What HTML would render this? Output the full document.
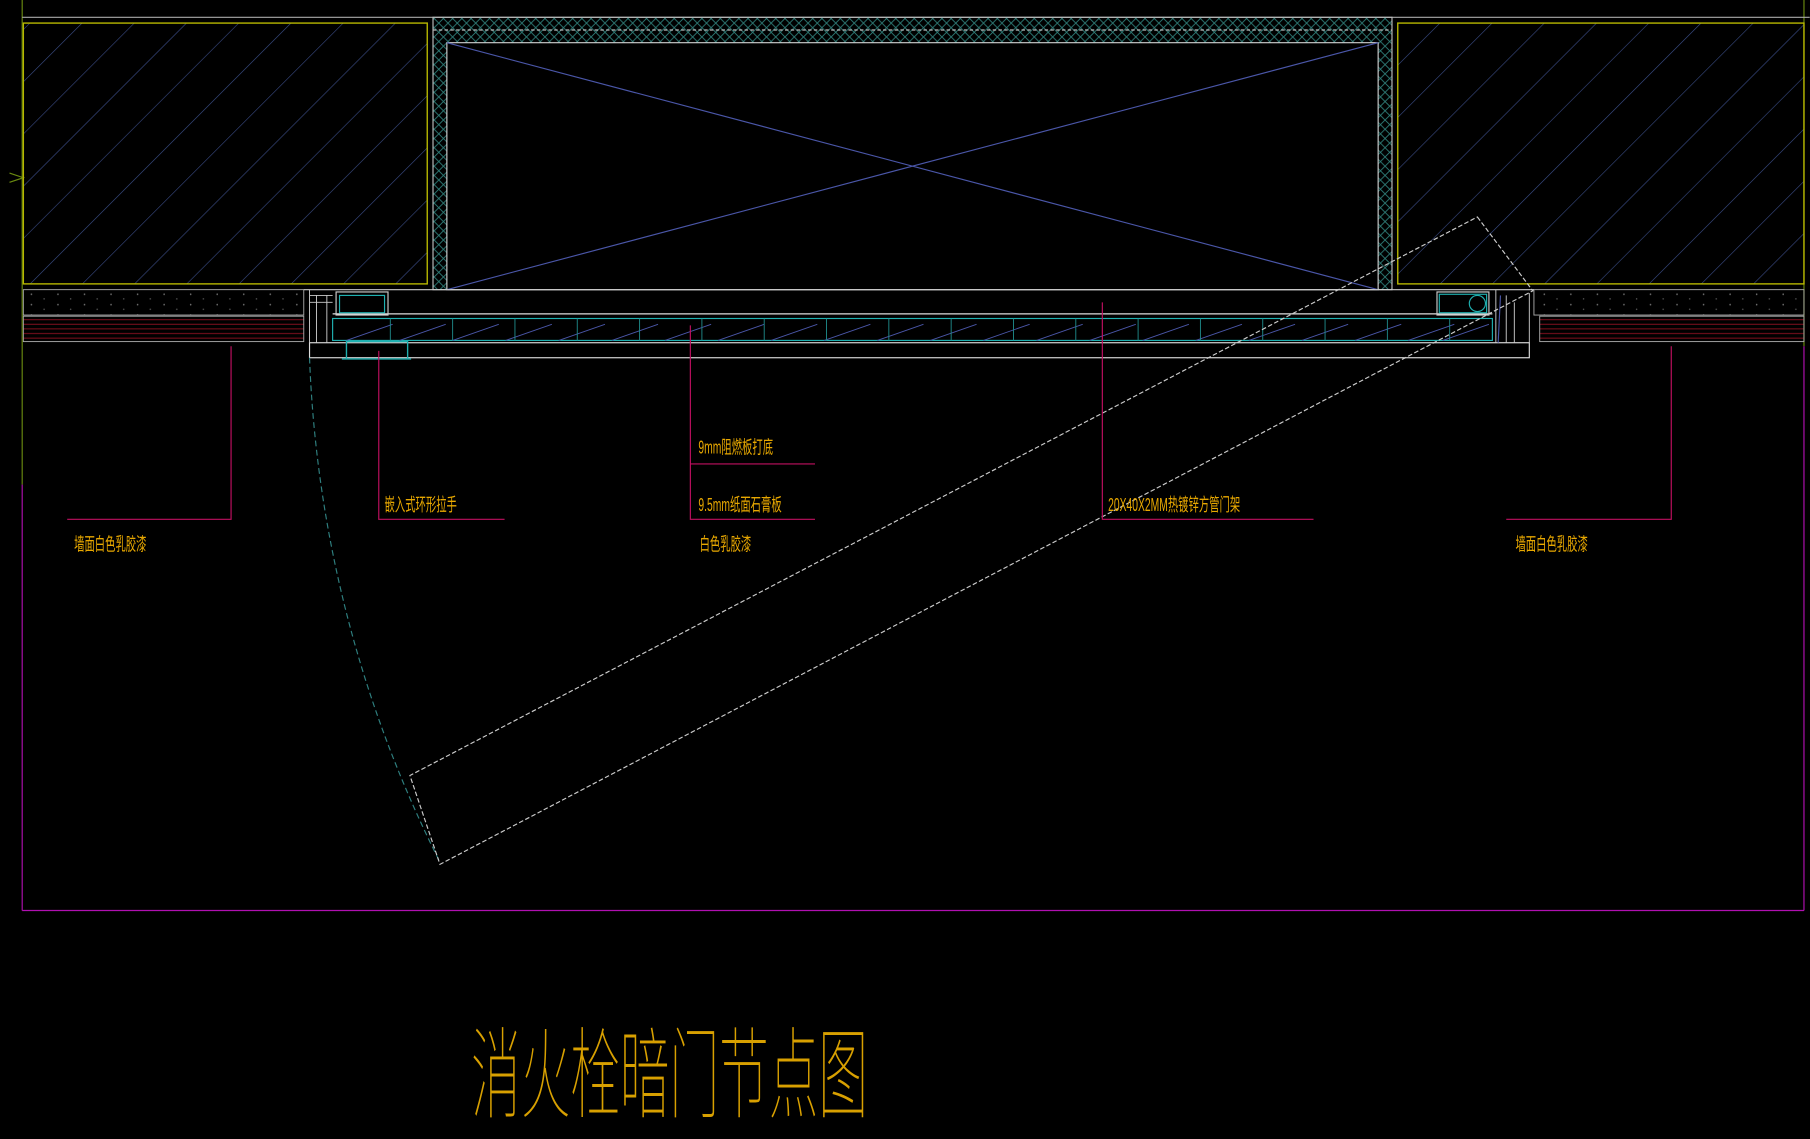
<!DOCTYPE html>
<html><head><meta charset="utf-8"><style>html,body{margin:0;padding:0;background:#000;width:1810px;height:1139px;overflow:hidden}svg{display:block}</style></head><body>
<svg width="1810" height="1139" viewBox="0 0 1568 987" xmlns="http://www.w3.org/2000/svg">
<defs>
<pattern id="hatch" width="32" height="32" patternUnits="userSpaceOnUse" patternTransform="rotate(45)">
<line x1="0" y1="0" x2="0" y2="32" stroke="#3c4f8c" stroke-width="1"/>
</pattern>
<pattern id="xh" width="8" height="8" patternUnits="userSpaceOnUse">
<path d="M0 0L8 8M8 0L0 8" stroke="#2f7d78" stroke-width="0.8"/>
</pattern>
<pattern id="red" width="10" height="4" patternUnits="userSpaceOnUse">
<line x1="0" y1="1" x2="10" y2="1" stroke="#8a1020" stroke-width="0.8"/>
</pattern>
<pattern id="dots" width="23" height="9" patternUnits="userSpaceOnUse">
<circle cx="4" cy="3" r="0.7" fill="#777"/><circle cx="15" cy="7" r="0.6" fill="#666"/>
</pattern>
</defs>
<rect width="1568" height="987" fill="#000"/>
<g fill="none">
<line x1="19" y1="0" x2="19" y2="420" stroke="#6a8a10"/>
<line x1="19" y1="420" x2="19" y2="789" stroke="#b010b0"/>
<line x1="19" y1="789" x2="1563" y2="789" stroke="#b010b0"/>
<line x1="1563" y1="0" x2="1563" y2="300" stroke="#6a8a10"/>
<line x1="1563" y1="300" x2="1563" y2="789" stroke="#b010b0"/>
<line x1="19" y1="15" x2="1568" y2="15" stroke="#aaa"/>
<path d="M8 150L20 154L8 158" stroke="#6a8a10"/>
<rect x="20" y="20" width="350" height="226" fill="url(#hatch)" stroke="#b8b800" stroke-width="1.2"/>
<rect x="1211" y="20" width="352" height="226" fill="url(#hatch)" stroke="#b8b800" stroke-width="1.2"/>
<rect x="20" y="251" width="243" height="22" fill="url(#dots)" stroke="#aaa" stroke-width="0.8"/>
<rect x="20" y="274" width="243" height="22" fill="url(#red)" stroke="#aaa" stroke-width="0.8"/>
<rect x="1329" y="251" width="234" height="22" fill="url(#dots)" stroke="#aaa" stroke-width="0.8"/>
<rect x="1334" y="274" width="229" height="22" fill="url(#red)" stroke="#aaa" stroke-width="0.8"/>
<rect x="375" y="15" width="831" height="236" fill="url(#xh)" stroke="#bbb"/>
<rect x="387" y="37" width="807" height="214" fill="#000" stroke="#ccc"/>
<line x1="375" y1="26" x2="1206" y2="26" stroke="#bbb" stroke-dasharray="3 2"/>
<line x1="387" y1="37" x2="1194" y2="251" stroke="#4a56a8"/>
<line x1="1194" y1="37" x2="387" y2="251" stroke="#4a56a8"/>
<line x1="263" y1="251" x2="1329" y2="251" stroke="#ccc"/>
<rect x="268" y="297" width="1057" height="13" stroke="#ddd"/>
<line x1="288" y1="272" x2="1293" y2="272" stroke="#ddd"/>
<rect x="288" y="276" width="1005" height="19" stroke="#1fb0b0"/>
<path d="M300 295L340 281M346 295L386 281M392 295L432 281M438 295L478 281M484 295L524 281M530 295L570 281M576 295L616 281M622 295L662 281M668 295L708 281M714 295L754 281M760 295L800 281M806 295L846 281M852 295L892 281M898 295L938 281M944 295L984 281M990 295L1030 281M1036 295L1076 281M1082 295L1122 281M1128 295L1168 281M1174 295L1214 281M1220 295L1260 281M1250 295L1290 281" stroke="#4a56a8" stroke-width="0.8"/>
<path d="M338 276V295M392 276V295M446 276V295M500 276V295M554 276V295M608 276V295M662 276V295M716 276V295M770 276V295M824 276V295M878 276V295M932 276V295M986 276V295M1040 276V295M1094 276V295M1148 276V295M1202 276V295M1256 276V295" stroke="#1f8a8a" stroke-width="0.8"/>
<rect x="291" y="253" width="45" height="20" stroke="#ccc"/>
<rect x="294" y="256" width="39" height="15" stroke="#1fb0b0"/>
<rect x="1245" y="253" width="45" height="20" stroke="#ccc"/>
<rect x="1247" y="255" width="41" height="16" stroke="#1fb0b0"/>
<circle cx="1280" cy="263" r="7" stroke="#1fb0b0"/>
<path d="M268 251V297M274 256V297M283 256V297M268 256H288M268 262H288" stroke="#ccc" stroke-width="0.8"/>
<path d="M1296 251V297M1305 256V297M1312 262V297M1325 254V297" stroke="#ccc" stroke-width="0.8"/>
<path d="M1300 256L1298 297" stroke="#4a56a8"/>
<path d="M300 311V296H353V311M296 311H356" stroke="#1fb0b0" stroke-width="1.2"/>
<path d="M268 310 A1055 1055 0 0 0 380 745" stroke="#2f8080" stroke-dasharray="5 3"/>
<path d="M1280 188L1328 252L381 749L355 672Z" stroke="#ccc" stroke-dasharray="4 2"/>
<g stroke="#c01060">
<path d="M200 300V450H58"/>
<path d="M328 304V450H437"/>
<path d="M598 282V450H706M598 402H706"/>
<path d="M955 262V450H1138"/>
<path d="M1448 300V450H1305"/>
</g>
</g>
<g fill="#e8a800" font-family="'Liberation Sans','Noto Sans CJK SC',sans-serif" font-size="16">
<text transform="translate(64,477) scale(0.56,1)">墙面白色乳胶漆</text>
<text transform="translate(333,443) scale(0.56,1)">嵌入式环形拉手</text>
<text transform="translate(605,393) scale(0.56,1)">9mm阻燃板打底</text>
<text transform="translate(605,443) scale(0.56,1)">9.5mm纸面石膏板</text>
<text transform="translate(606,477) scale(0.56,1)">白色乳胶漆</text>
<text transform="translate(960,443) scale(0.56,1)">20X40X2MM热镀锌方管门架</text>
<text transform="translate(1313,477) scale(0.56,1)">墙面白色乳胶漆</text>
<text transform="translate(408,962) scale(0.5,1)" font-size="86" font-family="'Noto Sans CJK SC',sans-serif" font-weight="100" fill="#d8a000">消火栓暗门节点图</text>
</g>
</svg>
</body></html>
